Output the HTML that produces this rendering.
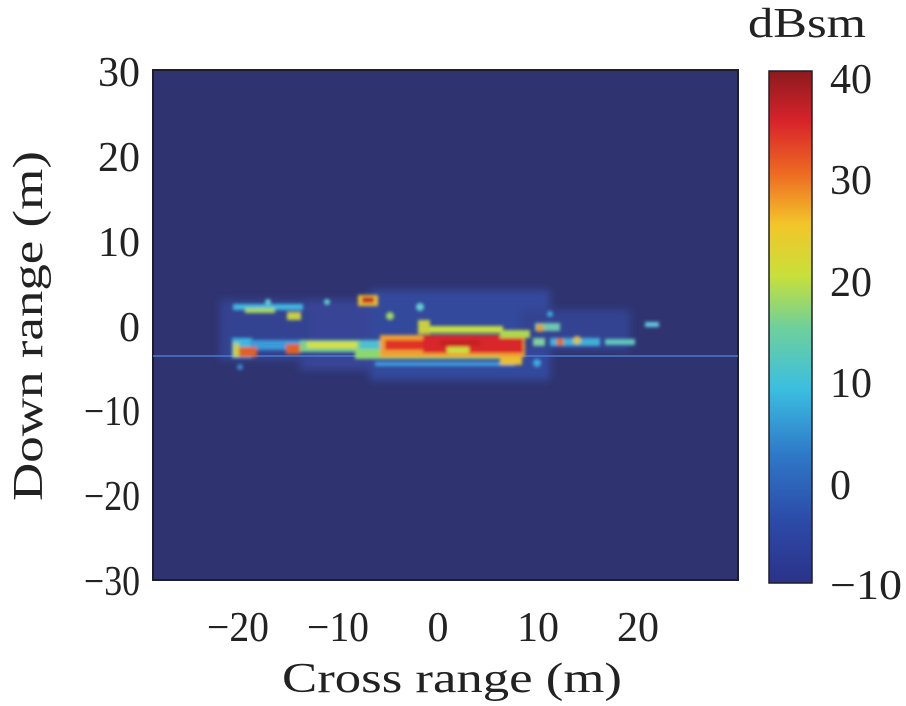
<!DOCTYPE html>
<html><head><meta charset="utf-8"><style>
body{margin:0;background:#fff;}
svg text{font-family:"Liberation Serif",serif;fill:#222;}
</style></head><body>
<svg width="906" height="701" viewBox="0 0 906 701" xmlns="http://www.w3.org/2000/svg">
<defs>
<linearGradient id="jet" x1="0" y1="1" x2="0" y2="0">
<stop offset="0" stop-color="#2b3288"/>
<stop offset="0.12" stop-color="#2c4aa8"/>
<stop offset="0.25" stop-color="#2f78c8"/>
<stop offset="0.38" stop-color="#3bbfe0"/>
<stop offset="0.5" stop-color="#6fd09a"/>
<stop offset="0.6" stop-color="#c8e03a"/>
<stop offset="0.7" stop-color="#f2c62a"/>
<stop offset="0.8" stop-color="#ee6a22"/>
<stop offset="0.9" stop-color="#d8242a"/>
<stop offset="1" stop-color="#8c1a1e"/>
</linearGradient>
<filter id="b1"><feGaussianBlur stdDeviation="1.5"/></filter>
<filter id="b3"><feGaussianBlur stdDeviation="4"/></filter>
<clipPath id="pc"><rect x="153" y="70" width="585" height="510"/></clipPath>
</defs>
<rect x="153" y="70" width="585" height="510" fill="#2f3470" stroke="#1e1e2a" stroke-width="2"/>
<g clip-path="url(#pc)">
<g filter="url(#b3)" opacity="0.8">
<rect x="300" y="300" width="100" height="70" fill="#3a4aa0"/>
<rect x="370" y="290" width="180" height="90" fill="#3550a8"/>
<rect x="220" y="300" width="90" height="60" fill="#34469a"/>
<rect x="520" y="310" width="110" height="40" fill="#34469a"/>
</g>
<rect x="153" y="355" width="585" height="2" fill="#4a7ad0" opacity="0.75"/>
<g filter="url(#b1)">
<rect x="375" y="362" width="140" height="4" fill="#3fa0e0"/>
<rect x="232" y="338" width="20" height="20" fill="#3ab8e0"/>
<rect x="250" y="340" width="60" height="10" fill="#3a9ad8"/>
<rect x="300" y="340" width="80" height="12" fill="#7ad090"/>
<rect x="307" y="342" width="50" height="6" fill="#d8e040"/>
<rect x="360" y="340" width="30" height="14" fill="#4fc0d0"/>
<rect x="355" y="349" width="160" height="10" fill="#8cd870"/>
<rect x="380" y="335" width="145" height="22" fill="#f0a030"/>
<rect x="385" y="340" width="40" height="10" fill="#e03028"/>
<rect x="423" y="335" width="100" height="18" fill="#d8282a"/>
<rect x="440" y="340" width="40" height="6" fill="#c42022"/>
<rect x="447" y="347" width="22" height="6" fill="#c8e040"/>
<rect x="427" y="326" width="76" height="7" fill="#c8e040"/>
<rect x="500" y="330" width="30" height="8" fill="#b0d850"/>
<rect x="500" y="357" width="22" height="8" fill="#e8c030"/>
<rect x="418" y="320" width="12" height="14" fill="#c8d040"/>
<rect x="358" y="295" width="20" height="11" fill="#e8c030"/>
<rect x="362" y="297" width="12" height="6" fill="#c82020"/>
<rect x="233" y="304" width="70" height="6" fill="#40b8e0"/>
<rect x="245" y="308" width="30" height="5" fill="#a8d860"/>
<rect x="287" y="312" width="14" height="8" fill="#c8d040"/>
<rect x="286" y="344" width="14" height="10" fill="#e06028"/>
<rect x="233" y="347" width="24" height="10" fill="#e06028"/>
<rect x="233" y="343" width="6" height="14" fill="#c8d040"/>
<circle cx="268" cy="302" r="3" fill="#60d0d0"/>
<circle cx="327" cy="302" r="3" fill="#60d0d0"/>
<circle cx="390" cy="316" r="4" fill="#a0d860"/>
<circle cx="420" cy="307" r="4" fill="#60d0d0"/>
<rect x="535" y="323" width="25" height="8" fill="#70c8b0"/>
<circle cx="540" cy="328" r="4" fill="#e0a030"/>
<rect x="533" y="338" width="12" height="8" fill="#80d0a0"/>
<rect x="550" y="338" width="50" height="8" fill="#40b0d8"/>
<circle cx="560" cy="342" r="4" fill="#e07030"/>
<circle cx="577" cy="340" r="4" fill="#e0c040"/>
<rect x="605" y="339" width="30" height="6" fill="#60c8c0"/>
<rect x="645" y="322" width="14" height="5" fill="#60c8e0"/>
<circle cx="537" cy="363" r="4" fill="#40a8e0"/>
<circle cx="550" cy="314" r="3" fill="#40a8e0"/>
<circle cx="240" cy="367" r="3" fill="#3a88d0"/>
</g>
</g>
<g font-size="42" text-anchor="end">
<text x="140" y="86">30</text><text x="140" y="171">20</text><text x="140" y="256">10</text>
<text x="140" y="341">0</text><text x="140" y="425" textLength="56" lengthAdjust="spacingAndGlyphs">−10</text><text x="140" y="510" textLength="56" lengthAdjust="spacingAndGlyphs">−20</text><text x="140" y="595" textLength="56" lengthAdjust="spacingAndGlyphs">−30</text>
</g>
<g font-size="42" text-anchor="middle">
<text x="238" y="641" textLength="62" lengthAdjust="spacingAndGlyphs">−20</text><text x="338" y="641" textLength="62" lengthAdjust="spacingAndGlyphs">−10</text><text x="438" y="641">0</text>
<text x="538" y="641">10</text><text x="638" y="641">20</text>
<text x="452" y="692" textLength="340" lengthAdjust="spacingAndGlyphs">Cross range (m)</text>
<text transform="translate(42,326) rotate(-90)" textLength="350" lengthAdjust="spacingAndGlyphs">Down range (m)</text>
</g>
<rect x="769" y="71" width="43" height="512" fill="url(#jet)" stroke="#1e1e2a" stroke-width="1.5"/>
<g font-size="42">
<text x="830" y="93">40</text><text x="830" y="194">30</text><text x="830" y="296">20</text>
<text x="830" y="397">10</text><text x="830" y="499">0</text><text x="830" y="599" textLength="72" lengthAdjust="spacingAndGlyphs">−10</text>
<text x="748" y="37" textLength="118" lengthAdjust="spacingAndGlyphs">dBsm</text>
</g>
</svg>
</body></html>
